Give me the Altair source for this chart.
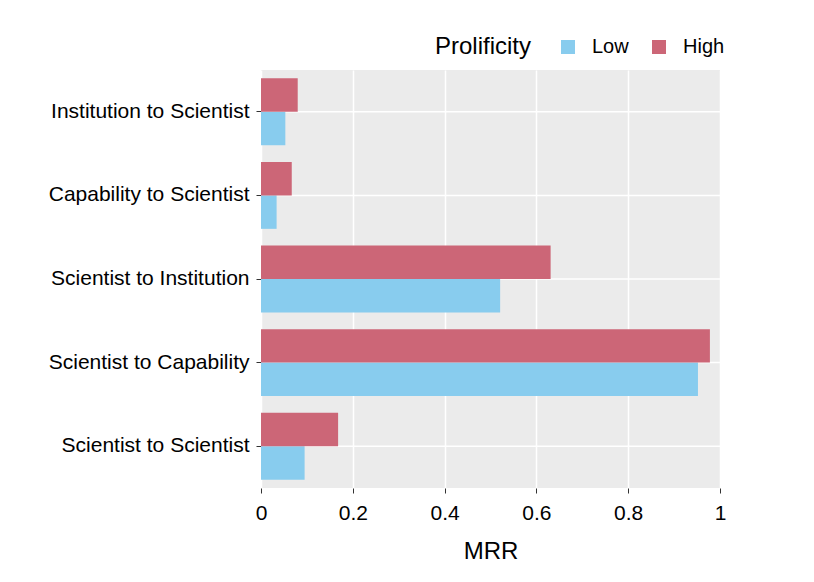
import altair as alt
import pandas as pd

categories = ["Institution to Scientist", "Capability to Scientist", "Scientist to Institution",
              "Scientist to Capability", "Scientist to Scientist"]
low_values = [0.053, 0.034, 0.521, 0.952, 0.095]
high_values = [0.080, 0.067, 0.631, 0.978, 0.168]
groups = ["Low", "High"]
colors = ["#88CCEE", "#CC6677"]
x_ticks = [0, 0.2, 0.4, 0.6, 0.8, 1]

rows = []
for c, lo, hi in zip(categories, low_values, high_values):
    rows.append({"cat": c, "Prolificity": "Low", "MRR": lo})
    rows.append({"cat": c, "Prolificity": "High", "MRR": hi})
df = pd.DataFrame(rows)
grid_df = pd.DataFrame({"cat": categories})

FONT = "Liberation Sans"

yscale = alt.Scale(domain=categories, paddingInner=0.2, paddingOuter=0.1)

bars = alt.Chart(df).mark_bar().encode(
    x=alt.X("MRR:Q", scale=alt.Scale(domain=[0, 1], nice=False, zero=True),
            axis=alt.Axis(values=x_ticks, format="~g", title="MRR", grid=True,
                          gridColor="white", gridWidth=1.5, domain=False,
                          tickColor="#333333", tickSize=5, tickWidth=1,
                          labelFontSize=21, labelColor="black", labelFont=FONT,
                          labelFlush=False, labelPadding=9, titleFontSize=24,
                          titleFont=FONT, titleFontWeight="normal", titleColor="black",
                          titlePadding=16)),
    y=alt.Y("cat:N", scale=yscale, sort=categories,
            axis=alt.Axis(title=None, domain=False, tickColor="#333333", tickSize=5,
                          tickWidth=1, labelFontSize=21, labelColor="black",
                          labelFont=FONT, labelPadding=7, labelLimit=0, grid=False)),
    yOffset=alt.YOffset("Prolificity:N", sort=["High", "Low"],
                        scale=alt.Scale(paddingInner=0, paddingOuter=0)),
    color=alt.Color("Prolificity:N", scale=alt.Scale(domain=groups, range=colors),
                    legend=alt.Legend(orient="none", legendX=174, legendY=-33,
                                      direction="horizontal", titleOrient="left",
                                      titleFontSize=24, titleFont=FONT,
                                      titleFontWeight="normal", titleColor="black",
                                      labelFontSize=20, labelFont=FONT, labelColor="black",
                                      symbolType="square", symbolSize=196,
                                      symbolStrokeWidth=0, symbolOpacity=1,
                                      labelOffset=14, columnPadding=20,
                                      titlePadding=26, padding=0,
                                      titleBaseline="middle", values=groups)),
)

grid = alt.Chart(grid_df).mark_rule(color="white", strokeWidth=1.5).encode(
    y=alt.Y("cat:N", scale=yscale, sort=categories)
)

chart = alt.layer(grid, bars).properties(
    width=459, height=418,
    background="white",
    autosize=alt.AutoSizeParams(type="none"),
    padding={"left": 253, "top": 62, "right": 86, "bottom": 86},
).configure_view(
    fill="#EBEBEB", stroke=None
)

chart.save("out.html", embed_options={"renderer": "svg", "actions": False})
